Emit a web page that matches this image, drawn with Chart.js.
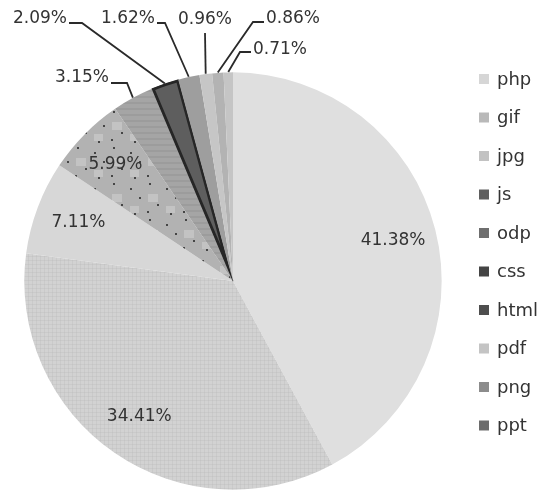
<!DOCTYPE html>
<html>
<head>
<meta charset="utf-8">
<script src="https://cdn.jsdelivr.net/npm/chart.js@4/dist/chart.umd.min.js"></script>
<style>
html,body{margin:0;padding:0;background:#ffffff;}
#wrap{width:542px;height:497px;position:relative;}
</style>
</head>
<body>
<div id="wrap"><canvas id="c"></canvas></div>
<script>
// ---- data ----
const categories = ['php', 'gif', 'jpg', 'js', 'odp', 'css', 'html', 'pdf', 'png', 'ppt'];
const shares = [41.38, 34.41, 7.11, 5.99, 3.15, 2.09, 1.62, 0.96, 0.86, 0.71];
const shareLabels = shares.map(v => v.toFixed(2) + '%');

// ---- styles ----
const sliceBase = ['#dfdfdf', '#d2d2d2', '#d7d7d7', '#b2b2b2', '#a5a5a5', '#5e5e5e', '#9e9e9e', '#c6c6c6', '#b3b3b3', '#c5c5c5'];
const legendColors = ['#d6d6d6', '#b9b9b9', '#c2c2c2', '#5e5e5e', '#6e6e6e', '#444444', '#4e4e4e', '#c4c4c4', '#8c8c8c', '#6c6c6c'];
const sliceBorderColors = ['#dfdfdf', '#d2d2d2', '#d7d7d7', '#b2b2b2', '#a5a5a5', '#262626', '#9e9e9e', '#c6c6c6', '#b3b3b3', '#c5c5c5'];
const sliceBorderWidths = [0, 0, 0, 0, 0, 2.5, 0, 0, 0, 0];

const LABEL_FONT = '17px "DejaVu Sans"';
const LEGEND_FONT = '18px "DejaVu Sans"';
const TEXT_COLOR = '#333333';

// ---- light textures (decorative, deterministic) ----
const targetCtx = document.getElementById('c').getContext('2d');
function tile(size, base, draw) {
  const c = document.createElement('canvas');
  c.width = size; c.height = size;
  const g = c.getContext('2d');
  g.fillStyle = base; g.fillRect(0, 0, size, size);
  draw(g, size);
  return targetCtx.createPattern(c, 'repeat');
}
const textures = [
  sliceBase[0],
  tile(4, sliceBase[1], (g) => { g.fillStyle = 'rgba(180,180,180,0.25)'; g.fillRect(0, 0, 4, 1); g.fillRect(0, 0, 1, 4); }),
  sliceBase[2],
  tile(36, sliceBase[3], (g) => {
    g.fillStyle = 'rgba(215,215,215,0.45)';
    g.fillRect(4, 14, 10, 8); g.fillRect(22, 26, 9, 7);
    g.fillStyle = '#454545';
    [[5, 3], [22, 8], [31, 17], [13, 24], [26, 33], [3, 31]].forEach(([x, y]) => g.fillRect(x, y, 2, 2));
  }),
  tile(6, sliceBase[4], (g) => { g.fillStyle = 'rgba(130,130,130,0.25)'; g.fillRect(0, 0, 6, 2); }),
  sliceBase[5], sliceBase[6], sliceBase[7], sliceBase[8], sliceBase[9]
];

// positions of outside labels relative to pie centre (text centre) and elbow point
const outsideLayout = {
  4: {tx: -151, ty: -203, ex: -106, ey: -198},  // 3.15%
  5: {tx: -193, ty: -262, ex: -151, ey: -258},  // 2.09%
  6: {tx: -105, ty: -262, ex: -68,  ey: -258},  // 1.62%
  7: {tx: -28,  ty: -261, ex: -28,  ey: -248, vertical: true}, // 0.96%
  8: {tx: 60,   ty: -262, ex: 20,   ey: -259},  // 0.86%
  9: {tx: 47,   ty: -231, ex: 7,    ey: -229}   // 0.71%
};

const labelPlugin = {
  id: 'sliceLabels',
  afterDatasetsDraw(chart) {
    const ctx = chart.ctx;
    const meta = chart.getDatasetMeta(0);
    ctx.save();
    ctx.font = LABEL_FONT;
    ctx.fillStyle = TEXT_COLOR;
    ctx.textBaseline = 'middle';
    meta.data.forEach((arc, i) => {
      const p = arc.getProps(['x', 'y', 'startAngle', 'endAngle', 'outerRadius'], true);
      const mid = (p.startAngle + p.endAngle) / 2;
      const txt = shareLabels[i];
      if (i < 4) {
        const rr = p.outerRadius * 0.79;
        ctx.textAlign = 'center';
        ctx.fillText(txt, p.x + Math.cos(mid) * rr, p.y + Math.sin(mid) * rr);
      } else {
        const L = outsideLayout[i];
        const ax = p.x + Math.cos(mid) * p.outerRadius;
        const ay = p.y + Math.sin(mid) * p.outerRadius;
        const tx = p.x + L.tx, ty = p.y + L.ty;
        const ex = p.x + L.ex, ey = p.y + L.ey;
        ctx.strokeStyle = '#2a2a2a';
        ctx.lineWidth = 1.8;
        ctx.beginPath();
        ctx.moveTo(ax, ay);
        ctx.lineTo(ex, ey);
        if (!L.vertical) {
          const w = ctx.measureText(txt).width;
          const side = tx < ex ? tx + w / 2 + 2 : tx - w / 2 - 2;
          ctx.lineTo(side, ey);
        }
        ctx.stroke();
        ctx.textAlign = 'center';
        ctx.fillText(txt, tx, ty);
      }
    });
    ctx.restore();
  }
};

const legendPlugin = {
  id: 'sideLegend',
  afterDraw(chart) {
    const ctx = chart.ctx;
    ctx.save();
    ctx.font = LEGEND_FONT;
    ctx.textBaseline = 'middle';
    ctx.textAlign = 'left';
    const boxX = 479, textX = 497, y0 = 80, step = 38.5, bs = 10;
    categories.forEach((name, i) => {
      const y = y0 + i * step;
      ctx.fillStyle = legendColors[i];
      ctx.fillRect(boxX, y - bs / 2 - 1, bs, bs);
      ctx.fillStyle = TEXT_COLOR;
      ctx.fillText(name, textX, y);
    });
    ctx.restore();
  }
};

new Chart(document.getElementById('c'), {
  type: 'pie',
  data: {
    labels: categories,
    datasets: [{
      data: shares,
      backgroundColor: textures,
      borderColor: sliceBorderColors,
      borderWidth: sliceBorderWidths,
      borderAlign: 'inner'
    }]
  },
  options: {
    responsive: true,
    maintainAspectRatio: false,
    animation: false,
    layout: {padding: {top: 72, bottom: 7, left: 24, right: 100}},
    plugins: {
      legend: {display: false},
      tooltip: {enabled: false}
    }
  },
  plugins: [labelPlugin, legendPlugin]
});
</script>
</body>
</html>
